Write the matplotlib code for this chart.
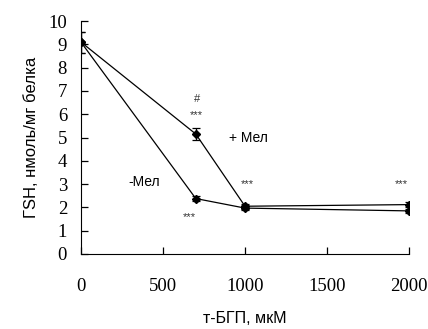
import matplotlib
matplotlib.use("Agg")
import matplotlib.pyplot as plt

# data
dose = [0, 700, 1000, 2000]
gsh_mel = [9.1, 5.15, 2.05, 2.12]
err_mel = [0.45, 0.25, 0.1, 0.1]
gsh_nomel = [9.1, 2.38, 1.97, 1.85]
err_nomel = [0.45, 0.12, 0.1, 0.1]

xticks = [0, 500, 1000, 1500, 2000]
yticks = list(range(0, 11))

SERIF = "Liberation Serif"
SANS = "Liberation Sans"

fig = plt.figure(figsize=(4.28, 3.29), dpi=100)
ax = fig.add_axes([0.189, 0.228, 0.767, 0.708])

for y, e in [(gsh_mel, err_mel), (gsh_nomel, err_nomel)]:
    ax.errorbar(dose, y, yerr=e, color="black", lw=0.9, marker="D", ms=4,
                capsize=3, elinewidth=0.9, capthick=0.9)

ax.set_xlim(0, 2000)
ax.set_ylim(0, 10)
ax.set_xticks(xticks)
ax.set_yticks(yticks)
ax.spines["top"].set_visible(False)
ax.spines["right"].set_visible(False)
ax.tick_params(axis="both", direction="in", length=5, width=0.9)
ax.tick_params(axis="x", pad=17)
ax.tick_params(axis="y", pad=10)
for lab in ax.get_xticklabels() + ax.get_yticklabels():
    lab.set_fontfamily(SERIF)
    lab.set_fontsize(13.5)

ax.set_xlabel("т-БГП, мкМ", family=SANS, fontsize=11.5, labelpad=12)
ax.set_ylabel("ГSH, нмоль/мг белка", family=SANS, fontsize=12, labelpad=7)

star = dict(ha="center", va="center", fontsize=8, color="#333333", family=SANS)
ax.text(705, 6.65, "#", **star)
ax.text(705, 5.97, "***", **star)
ax.text(660, 1.6, "***", **star)
ax.text(1012, 3.0, "***", **star)
ax.text(1950, 3.0, "***", **star)
ax.text(905, 4.98, "+ Мел", ha="left", va="center", fontsize=10, family=SANS)
ax.text(287, 3.1, "-Мел", ha="left", va="center", fontsize=10, family=SANS)

fig.savefig("out.png", dpi=100)
